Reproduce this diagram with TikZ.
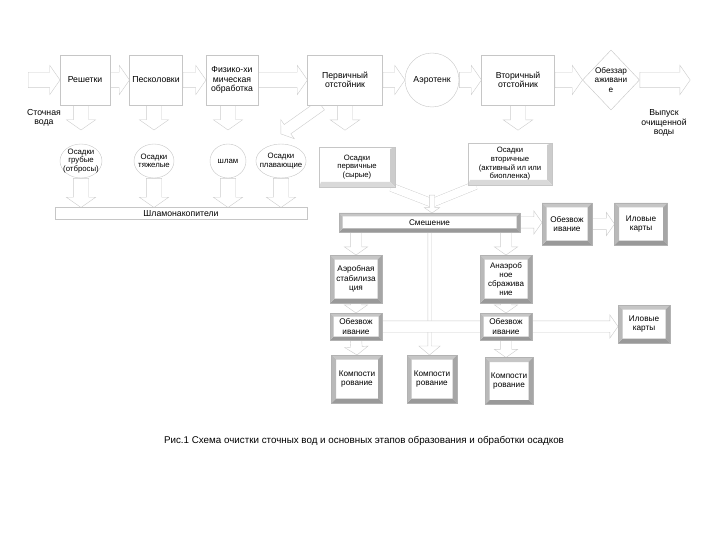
\documentclass[tikz,border=0pt]{standalone}
\usepackage{fontspec}
\setmainfont{Liberation Sans}
\usetikzlibrary{positioning, shapes.geometric, shapes.arrows, calc, backgrounds}

\begin{document}
\begin{tikzpicture}[
    x=1pt, y=-1pt,
    font=\fontsize{8.7}{9.6}\selectfont,
    every node/.style={align=center},
    unit/.style={draw=gray!45, fill=white, minimum height=50pt, inner sep=1pt},
    sed/.style={ellipse, draw=gray!45, fill=white, minimum height=34pt, inner sep=-3.5pt, font=\fontsize{7.8}{8.6}\selectfont},
    bevel/.style={fill=white, draw=gray!60, inner sep=1pt, font=\fontsize{8.2}{9.2}\selectfont,
        path picture={
            \coordinate (pa) at (path picture bounding box.north west);
            \coordinate (pb) at (path picture bounding box.north east);
            \coordinate (pc) at (path picture bounding box.south east);
            \coordinate (pd) at (path picture bounding box.south west);
            \fill[gray!45] (pa) -- (pb) -- ([shift={(-#1,-#1)}]pb) -- ([shift={(#1,-#1)}]pa) -- cycle;
            \fill[gray!70] (pb) -- (pc) -- ([shift={(-#1,#1)}]pc) -- ([shift={(-#1,-#1)}]pb) -- cycle;
            \fill[gray!80] (pc) -- (pd) -- ([shift={(#1,#1)}]pd) -- ([shift={(-#1,#1)}]pc) -- cycle;
            \fill[gray!55] (pd) -- (pa) -- ([shift={(#1,-#1)}]pa) -- ([shift={(#1,#1)}]pd) -- cycle;
        }},
    bevel/.default=4.5pt,
    raised/.style={fill=white, draw=gray!45, inner sep=1pt, font=\fontsize{7.7}{8.6}\selectfont,
        path picture={
            \coordinate (pb) at (path picture bounding box.north east);
            \coordinate (pc) at (path picture bounding box.south east);
            \coordinate (pd) at (path picture bounding box.south west);
            \fill[gray!40] (pb) -- (pc) -- ([shift={(-5pt,5pt)}]pc) -- ([shift={(-5pt,-2pt)}]pb) -- cycle;
            \fill[gray!30] (pc) -- (pd) -- ([shift={(2pt,5pt)}]pd) -- ([shift={(-5pt,5pt)}]pc) -- cycle;
        }},
    bigpipe/.style={single arrow, draw=gray!40, fill=white, inner xsep=0pt, inner ysep=0pt,
        text height=15pt, text depth=0pt, single arrow head extend=7pt, single arrow tip angle=110},
    midpipe/.style={bigpipe, text height=11pt, single arrow head extend=6pt},
    smallpipe/.style={bigpipe, text height=5pt, single arrow head extend=5pt},
    thinpipe/.style={bigpipe, text height=3pt, single arrow head extend=9pt, single arrow tip angle=100},
    pipe/.style={to path={
        let \p1=(\tikztostart), \p2=(\tikztotarget),
            \n1={veclen(\x2-\x1,\y2-\y1)}, \n2={atan2(\y2-\y1,\x2-\x1)}
        in node[#1, minimum height=\n1, rotate=\n2, anchor=tail] at (\p1) {}}},
    pipe/.default=bigpipe,
    band/.style={draw=gray!40, double=white, double distance=8pt},
]
\useasboundingbox (0,0) rectangle (720,540);

% Water line
\node[unit, minimum width=50pt] (resh) at (85,80) {Решетки};
\node[unit, minimum width=53pt] (pesk) at (156,80) {Песколовки};
\node[unit, minimum width=52pt] (fiz) at (232,80) {Физико-хи\\мическая\\обработка};
\node[unit, minimum width=75pt] (perv) at (345,80) {Первичный\\отстойник};
\node[circle, draw=gray!45, fill=white, minimum size=54pt, inner sep=0pt] (aero) at (432,80) {Аэротенк};
\node[unit, minimum width=73pt] (vtor) at (518,80) {Вторичный\\отстойник};
\node[diamond, draw=gray!45, fill=white, minimum width=57pt, minimum height=60pt, inner sep=-1pt,
      font=\fontsize{8.2}{9.2}\selectfont] (obez) at (611,80) {Обеззар\\аживани\\е};
\coordinate (in) at (28,80);
\coordinate (out) at (690,80);
\node (lblIn) at (44,118) {Сточная\\вода};
\node (lblOut) at (664,123) {Выпуск\\очищенной\\воды};

% Sediments from the water line
\node[sed, minimum width=42pt] (sedA) at (81,161) {Осадки\\грубые\\(отбросы)};
\node[sed, minimum width=40pt] (sedB) at (154,161) {Осадки\\тяжелые};
\node[sed, minimum width=36pt] (sedC) at (228,161) {шлам};
\node[sed, minimum width=44pt] (sedD) at (281,161) {Осадки\\плавающие};
\node[draw=gray!45, fill=white, minimum width=252pt, minimum height=12pt, inner sep=0pt] (slam) at (181,213.5) {Шламонакопители};
\coordinate (pervEnd) at (345,130);
\coordinate (vtorEnd) at (518,130);

% Sludge treatment
\node[raised, minimum width=76pt, minimum height=40pt] (sedP) at (357,167) {Осадки\\первичные\\(сырые)};
\node[raised, minimum width=84pt, minimum height=42pt] (sedS) at (510,164) {Осадки\\вторичные\\(активный ил или\\биопленка)};
\coordinate (mix) at (432,203);
\node[bevel=3.5pt, minimum width=181pt, minimum height=19pt, inner sep=0pt] (smesh) at (429.5,222.5) {Смешение};
\node[bevel, minimum width=50pt, minimum height=42pt] (dewA) at (567,224) {Обезвож\\ивание};
\node[bevel, minimum width=53pt, minimum height=42pt] (kartyA) at (641,224) {Иловые\\карты};
\node[bevel, minimum width=52pt, minimum height=48pt] (aer) at (356,279) {Аэробная\\стабилиза\\ция};
\node[bevel, minimum width=52pt, minimum height=48pt, font=\fontsize{8}{8.8}\selectfont] (anaer) at (506,279) {Анаэроб\\ное\\сбражива\\ние};
\node[bevel=3.5pt, minimum width=52pt, minimum height=27pt] (dewB) at (356,326.5) {Обезвож\\ивание};
\node[bevel=3.5pt, minimum width=52pt, minimum height=27pt] (dewC) at (506,326.5) {Обезвож\\ивание};
\node[bevel, minimum width=52pt, minimum height=38pt] (kartyB) at (644,324) {Иловые\\карты};
\node[bevel, minimum width=51pt, minimum height=48pt] (kompA) at (357,379) {Компости\\рование};
\node[bevel, minimum width=50pt, minimum height=48pt] (kompB) at (432,379) {Компости\\рование};
\node[bevel, minimum width=48pt, minimum height=47pt] (kompC) at (509,381) {Компости\\рование};

\node[font=\fontsize{9.8}{11}\selectfont] (cap) at (364,441)
    {Рис.1 Схема очистки сточных вод  и основных этапов образования и обработки осадков};

\begin{scope}[on background layer]
% Flow of water
\path (in) to[pipe] (resh.west);
\foreach \a/\b in {resh/pesk, pesk/fiz, fiz/perv, perv/aero, aero/vtor, vtor/obez}
    \path (\a.east) to[pipe] (\b.west);
\path (obez.east) to[pipe] (out);

% Sediment outlets
\foreach \a/\b in {resh/sedA, pesk/sedB, fiz/sedC}
    \path (\a.south -| \b) to[pipe] ([yshift=14pt]\b.north);
\path (perv.south) to[pipe] (pervEnd);
\path ([xshift=14pt]perv.south west) to[pipe=midpipe] ([yshift=10pt]sedD.north);
\path (vtor.south) to[pipe] (vtorEnd);
\foreach \s in {sedA, sedB, sedC, sedD}
    \path (\s.south) to[pipe] (\s.south |- slam.north);

% Sludge lines
\draw[band] ([xshift=-4pt]sedP.south east) -- (mix) -- ([xshift=8pt]sedS.south west);
\path ([yshift=8pt]mix) to[pipe=smallpipe] (mix |- smesh.north);
\path (smesh.east) to[pipe=midpipe] (smesh.east -| dewA.west);
\path (dewA.east) to[pipe=midpipe] (kartyA.west);
\path (smesh.south -| aer) to[pipe=midpipe] (aer.north);
\path (smesh.south -| anaer) to[pipe=midpipe] (anaer.north);
\path (smesh.south) to[pipe=thinpipe] (smesh.south |- kompB.north);
\path (aer.south) to[pipe=midpipe] (dewB.north);
\path (anaer.south) to[pipe=midpipe] (dewC.north);
\path (dewB.east) to[pipe=midpipe] (dewB.east -| kartyB.west);
\path (dewB.south) to[pipe=midpipe] (kompA.north);
\path (dewC.south) to[pipe=midpipe] (dewC.south |- kompC.north);
\end{scope}
\end{tikzpicture}
\end{document}
